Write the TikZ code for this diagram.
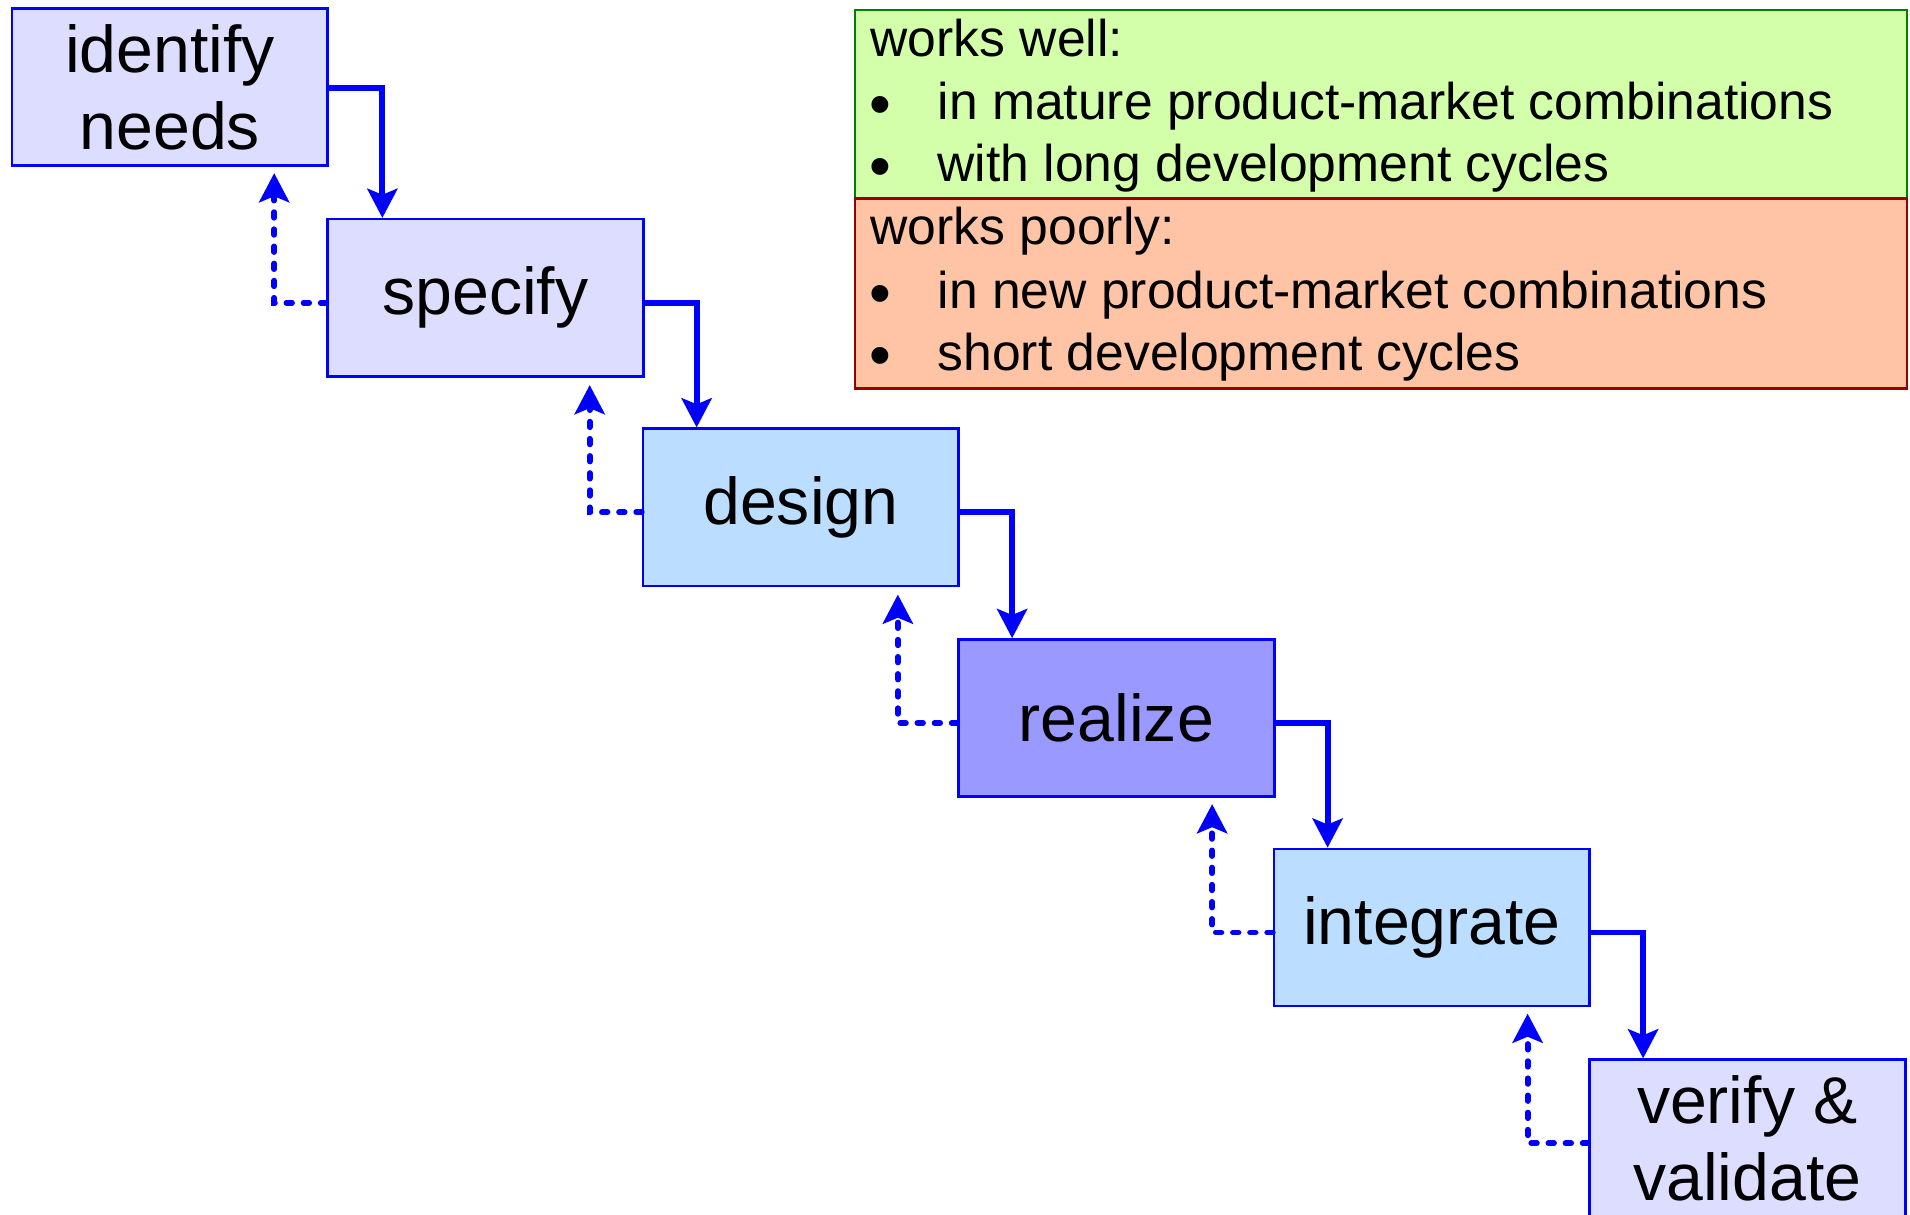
\documentclass[tikz,border=0pt]{standalone}
\usepackage{fontspec}
\setmainfont{Liberation Sans}
\usetikzlibrary{arrows.meta}
\definecolor{lav}{HTML}{DDDDFF}
\definecolor{sky}{HTML}{BBDDFF}
\definecolor{violet}{HTML}{9999FF}
\definecolor{goodfill}{HTML}{D4FFAA}
\definecolor{gooddraw}{HTML}{008000}
\definecolor{poorfill}{HTML}{FFC4A6}
\definecolor{poordraw}{HTML}{990000}
\begin{document}
\begin{tikzpicture}[x=0.01cm,y=-0.01cm,
  stepbox/.style={draw=blue, line width=0.6pt, minimum width=2.59cm, minimum height=1.29cm,
    inner sep=0pt, font=\fontsize{15.45}{17.9}\selectfont, align=center},
  flow/.style={draw=blue, line width=1.35pt, -{Stealth[length=6.8pt,width=7pt,inset=1.4pt]}},
  back/.style={flow, line cap=round, dash pattern=on 1.3pt off 2.7pt},
  legbox/.style={line width=0.6pt, minimum width=8.63cm, inner sep=0pt, anchor=north west},
  legtext/.style={anchor=base west, inner sep=0pt, font=\fontsize{12.06}{14.6}\selectfont},
  legbullet/.style={anchor=base west, inner sep=0pt, font=\fontsize{14.5}{14.6}\selectfont}]
\useasboundingbox (0,0) rectangle (1568,997);
\clip (0,0) rectangle (1568,997);

% process steps
\node[stepbox, fill=lav]    (idn)  at (139.5,71.5)  {identify\\needs};
\node[stepbox, fill=lav]    (spec) at (398.5,244.5) {specify};
\node[stepbox, fill=sky]    (des)  at (657.5,416.5) {design};
\node[stepbox, fill=violet] (rea)  at (916.5,589.5) {realize};
\node[stepbox, fill=sky]    (int)  at (1175.5,761.5) {integrate};
\node[stepbox, fill=lav]    (ver)  at (1434.5,934.5) {verify \&\\validate};

% forward flow
\draw[flow] ([yshift=-0.01cm]idn.east)  -| ([xshift=0.46cm]spec.north west);
\draw[flow] ([yshift=-0.04cm]spec.east) -| ([xshift=0.45cm]des.north west);
\draw[flow] ([yshift=-0.04cm]des.east)  -| ([xshift=0.45cm]rea.north west);
\draw[flow] ([yshift=-0.04cm]rea.east)  -| ([xshift=0.45cm]int.north west);
\draw[flow] ([yshift=-0.04cm]int.east)  -| ([xshift=0.45cm]ver.north west);

% feedback
\draw[back] ([yshift=-0.04cm]spec.west) -| ([xshift=-0.45cm,yshift=-0.05cm]idn.south east);
\draw[back] ([yshift=-0.04cm]des.west)  -| ([xshift=-0.45cm,yshift=-0.06cm]spec.south east);
\draw[back] ([yshift=-0.04cm]rea.west)  -| ([xshift=-0.51cm,yshift=-0.06cm]des.south east);
\draw[back] ([yshift=-0.04cm]int.west)  -| ([xshift=-0.52cm,yshift=-0.05cm]rea.south east);
\draw[back] ([yshift=-0.04cm]ver.west)  -| ([xshift=-0.52cm,yshift=-0.05cm]int.south east);

% legend
\node[legbox, draw=gooddraw, fill=goodfill, minimum height=1.55cm] (good) at (701,7) {};
\node[legbox, draw=poordraw, fill=poorfill, minimum height=1.56cm] (poor) at (701,162) {};

\node[legtext]   (g0)  at (714,46)  {works well:};
\node[legbullet] (g1b) at (713,103) {•};
\node[legtext]   (g1)  at (769,98)  {in mature product-market combinations};
\node[legbullet] (g2b) at (713,154) {•};
\node[legtext]   (g2)  at (769,149) {with long development cycles};
\node[legtext]   (p0)  at (714,201) {works poorly:};
\node[legbullet] (p1b) at (713,258) {•};
\node[legtext]   (p1)  at (769,253) {in new product-market combinations};
\node[legbullet] (p2b) at (713,309) {•};
\node[legtext]   (p2)  at (769,304) {short development cycles};
\end{tikzpicture}
\end{document}
